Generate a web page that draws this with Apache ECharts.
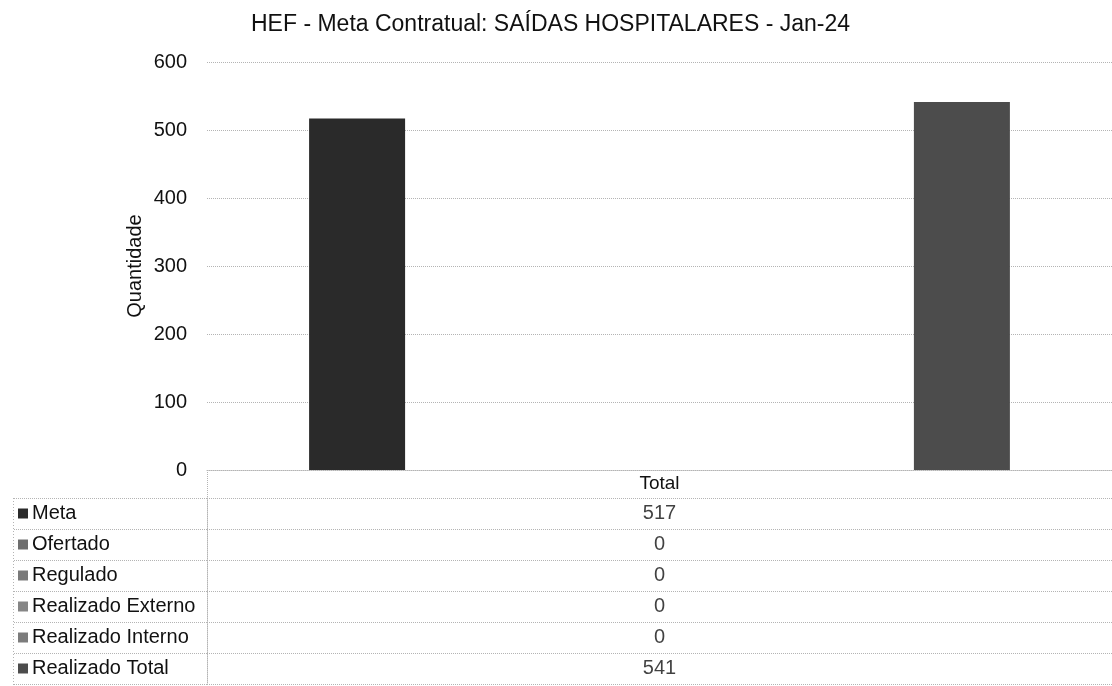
<!DOCTYPE html>
<html>
<head>
<meta charset="utf-8">
<script src="https://cdn.jsdelivr.net/npm/echarts@6/dist/echarts.min.js"></script>
<style>
  html, body { margin: 0; padding: 0; background: #fff; }
  #chart { width: 1112px; height: 686px; }
</style>
</head>
<body>
<div id="chart"></div>
<script>
// dados do gráfico
const titulo = 'HEF - Meta Contratual: SAÍDAS HOSPITALARES - Jan-24';
const categorias = ['Total'];
const nomesSeries = ['Meta', 'Ofertado', 'Regulado', 'Realizado Externo', 'Realizado Interno', 'Realizado Total'];
const valores = [517, 0, 0, 0, 0, 541];
const yTicks = [0, 100, 200, 300, 400, 500, 600];

const coresSeries = ['#2a2a2a', '#6e6e6e', '#7a7a7a', '#868686', '#7c7c7c', '#4c4c4c'];
const fonte = '"Liberation Sans", Arial, sans-serif';
const linhaPontilhada = { color: '#b4b4b4', type: 'dotted', width: 1 };

const chart = echarts.init(document.getElementById('chart'));

// caixinhas de legenda ao lado do nome da linha da tabela
const rich = { t: { fontSize: 20, fontFamily: fonte, color: '#111', padding: [0, 0, 0, 4] } };
coresSeries.forEach((c, i) => {
  rich['b' + i] = { width: 10, height: 10, backgroundColor: c };
});

const seriesBarras = nomesSeries.map((nome, i) => ({
  name: nome,
  type: 'bar',
  xAxisIndex: 0,
  yAxisIndex: 0,
  data: [valores[i]],
  barWidth: 96,
  barGap: '26%',
  itemStyle: { color: coresSeries[i] },
  silent: true
}));

// células de valores da tabela
const seriesTabela = {
  type: 'scatter',
  xAxisIndex: 1,
  yAxisIndex: 1,
  symbolSize: 1,
  itemStyle: { color: 'rgba(0,0,0,0)' },
  label: {
    show: true,
    position: 'inside',
    formatter: p => p.value[2],
    fontSize: 20,
    fontFamily: fonte,
    color: '#111'
  },
  data: nomesSeries.map((nome, i) => [categorias[0], nome, valores[i]]),
  silent: true
};

const option = {
  animation: false,
  backgroundColor: '#fff',
  title: {
    text: titulo,
    left: 246,
    top: 8,
    textStyle: { fontSize: 23, fontWeight: 'normal', fontFamily: fonte, color: '#111' }
  },
  grid: [
    { left: 207, right: 0, top: 62, bottom: 216 },
    { left: 207, right: 0, top: 498, bottom: 2 }
  ],
  xAxis: [
    {
      type: 'category',
      gridIndex: 0,
      data: categorias,
      axisLine: { show: true, lineStyle: linhaPontilhada },
      axisTick: { show: true, length: 28, lineStyle: linhaPontilhada },
      axisLabel: { fontSize: 19, fontFamily: fonte, color: '#111', margin: 4 }
    },
    {
      type: 'category',
      gridIndex: 1,
      data: categorias,
      show: false
    }
  ],
  yAxis: [
    {
      type: 'value',
      gridIndex: 0,
      min: yTicks[0],
      max: yTicks[yTicks.length - 1],
      interval: 100,
      name: 'Quantidade',
      nameLocation: 'middle',
      nameGap: 62,
      nameMoveOverlap: false,
      nameTextStyle: { fontSize: 20, fontFamily: fonte, color: '#111' },
      axisLine: { show: false },
      axisTick: { show: false },
      axisLabel: { fontSize: 20, fontFamily: fonte, color: '#111', margin: 20 },
      splitLine: { show: true, lineStyle: linhaPontilhada }
    },
    {
      type: 'category',
      gridIndex: 1,
      inverse: true,
      data: nomesSeries,
      axisLine: { show: true, lineStyle: linhaPontilhada },
      axisTick: { show: true, length: 194, lineStyle: linhaPontilhada },
      axisLabel: {
        align: 'left',
        margin: 189,
        formatter: (v, i) => '{b' + i + '|}{t|' + v + '}',
        rich: rich
      },
      splitLine: { show: true, lineStyle: linhaPontilhada }
    }
  ],
  graphic: [
    {
      type: 'line',
      shape: { x1: 13.5, y1: 498, x2: 13.5, y2: 686 },
      style: { stroke: '#b4b4b4', lineDash: [1, 2], lineWidth: 1 },
      silent: true
    }
  ],
  series: seriesBarras.concat([seriesTabela])
};

chart.setOption(option);
window.addEventListener('resize', function () {
  chart.resize();
});
</script>
</body>
</html>
